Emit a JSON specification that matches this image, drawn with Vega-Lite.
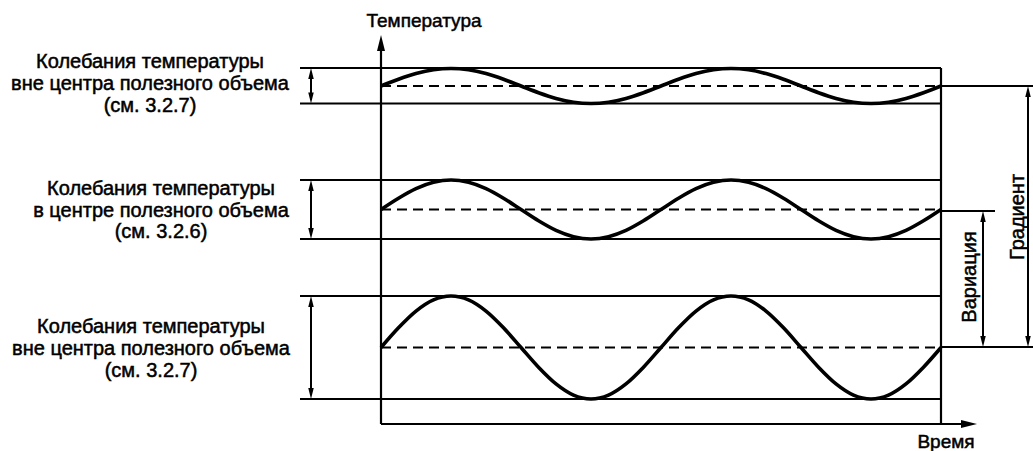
{
  "$schema": "https://vega.github.io/schema/vega-lite/v6.json",
  "width": 1033,
  "height": 451,
  "autosize": {"type": "none"},
  "padding": 0,
  "background": "white",
  "config": {"view": {"stroke": null}},
  "datasets": {
    "curves": [
      {"p":1,"x":381,"y":86},{"p":1,"x":398.5,"y":79.3},{"p":1,"x":416,"y":73.6},{"p":1,"x":433.5,"y":69.8},{"p":1,"x":451,"y":68.5},{"p":1,"x":468.5,"y":69.8},{"p":1,"x":486,"y":73.6},{"p":1,"x":503.5,"y":79.3},{"p":1,"x":521,"y":86},{"p":1,"x":538.5,"y":92.7},{"p":1,"x":556,"y":98.4},{"p":1,"x":573.5,"y":102.2},{"p":1,"x":591,"y":103.5},{"p":1,"x":608.5,"y":102.2},{"p":1,"x":626,"y":98.4},{"p":1,"x":643.5,"y":92.7},{"p":1,"x":661,"y":86},{"p":1,"x":678.5,"y":79.3},{"p":1,"x":696,"y":73.6},{"p":1,"x":713.5,"y":69.8},{"p":1,"x":731,"y":68.5},{"p":1,"x":748.5,"y":69.8},{"p":1,"x":766,"y":73.6},{"p":1,"x":783.5,"y":79.3},{"p":1,"x":801,"y":86},{"p":1,"x":818.5,"y":92.7},{"p":1,"x":836,"y":98.4},{"p":1,"x":853.5,"y":102.2},{"p":1,"x":871,"y":103.5},{"p":1,"x":888.5,"y":102.2},{"p":1,"x":906,"y":98.4},{"p":1,"x":923.5,"y":92.7},{"p":1,"x":941,"y":86},
      {"p":2,"x":381,"y":209.5},{"p":2,"x":398.5,"y":198.2},{"p":2,"x":416,"y":188.6},{"p":2,"x":433.5,"y":182.3},{"p":2,"x":451,"y":180},{"p":2,"x":468.5,"y":182.3},{"p":2,"x":486,"y":188.6},{"p":2,"x":503.5,"y":198.2},{"p":2,"x":521,"y":209.5},{"p":2,"x":538.5,"y":220.8},{"p":2,"x":556,"y":230.4},{"p":2,"x":573.5,"y":236.7},{"p":2,"x":591,"y":239},{"p":2,"x":608.5,"y":236.7},{"p":2,"x":626,"y":230.4},{"p":2,"x":643.5,"y":220.8},{"p":2,"x":661,"y":209.5},{"p":2,"x":678.5,"y":198.2},{"p":2,"x":696,"y":188.6},{"p":2,"x":713.5,"y":182.3},{"p":2,"x":731,"y":180},{"p":2,"x":748.5,"y":182.3},{"p":2,"x":766,"y":188.6},{"p":2,"x":783.5,"y":198.2},{"p":2,"x":801,"y":209.5},{"p":2,"x":818.5,"y":220.8},{"p":2,"x":836,"y":230.4},{"p":2,"x":853.5,"y":236.7},{"p":2,"x":871,"y":239},{"p":2,"x":888.5,"y":236.7},{"p":2,"x":906,"y":230.4},{"p":2,"x":923.5,"y":220.8},{"p":2,"x":941,"y":209.5},
      {"p":3,"x":381,"y":347.5},{"p":3,"x":398.5,"y":327.8},{"p":3,"x":416,"y":311.1},{"p":3,"x":433.5,"y":299.9},{"p":3,"x":451,"y":296},{"p":3,"x":468.5,"y":299.9},{"p":3,"x":486,"y":311.1},{"p":3,"x":503.5,"y":327.8},{"p":3,"x":521,"y":347.5},{"p":3,"x":538.5,"y":367.2},{"p":3,"x":556,"y":383.9},{"p":3,"x":573.5,"y":395.1},{"p":3,"x":591,"y":399},{"p":3,"x":608.5,"y":395.1},{"p":3,"x":626,"y":383.9},{"p":3,"x":643.5,"y":367.2},{"p":3,"x":661,"y":347.5},{"p":3,"x":678.5,"y":327.8},{"p":3,"x":696,"y":311.1},{"p":3,"x":713.5,"y":299.9},{"p":3,"x":731,"y":296},{"p":3,"x":748.5,"y":299.9},{"p":3,"x":766,"y":311.1},{"p":3,"x":783.5,"y":327.8},{"p":3,"x":801,"y":347.5},{"p":3,"x":818.5,"y":367.2},{"p":3,"x":836,"y":383.9},{"p":3,"x":853.5,"y":395.1},{"p":3,"x":871,"y":399},{"p":3,"x":888.5,"y":395.1},{"p":3,"x":906,"y":383.9},{"p":3,"x":923.5,"y":367.2},{"p":3,"x":941,"y":347.5}
    ],
    "thin": [
      {"x":300,"x2":941,"y":68,"y2":68},
      {"x":300,"x2":941,"y":103.5,"y2":103.5},
      {"x":300,"x2":941,"y":180,"y2":180},
      {"x":300,"x2":941,"y":239,"y2":239},
      {"x":300,"x2":941,"y":296,"y2":296},
      {"x":300,"x2":941,"y":399,"y2":399},
      {"x":311,"x2":311,"y":72,"y2":100},
      {"x":311,"x2":311,"y":184,"y2":235},
      {"x":311,"x2":311,"y":300,"y2":395},
      {"x":941,"x2":1033,"y":86,"y2":86},
      {"x":941,"x2":1033,"y":347,"y2":347},
      {"x":941,"x2":995,"y":211,"y2":211},
      {"x":1028,"x2":1028,"y":90,"y2":343},
      {"x":983,"x2":983,"y":215,"y2":343}
    ],
    "box": [
      {"x":381,"x2":381,"y":45,"y2":424},
      {"x":941,"x2":941,"y":68,"y2":424},
      {"x":381,"x2":965,"y":424,"y2":424}
    ],
    "dashed": [
      {"x":381,"x2":941,"y":86,"y2":86},
      {"x":381,"x2":941,"y":209.5,"y2":209.5},
      {"x":381,"x2":941,"y":347.5,"y2":347.5}
    ],
    "heads": [
      {"x":311,"y":68,"dir":"up"},{"x":311,"y":103.5,"dir":"down"},
      {"x":311,"y":180,"dir":"up"},{"x":311,"y":239,"dir":"down"},
      {"x":311,"y":296,"dir":"up"},{"x":311,"y":399,"dir":"down"},
      {"x":1028,"y":86,"dir":"up"},{"x":1028,"y":347,"dir":"down"},
      {"x":983,"y":211,"dir":"up"},{"x":983,"y":347,"dir":"down"},
      {"x":381,"y":35,"dir":"yaxis"},
      {"x":977,"y":424,"dir":"xaxis"}
    ],
    "labels": [
      {"x":150,"y":68,"t":"Колебания температуры"},
      {"x":150,"y":90,"t":"вне центра полезного объема"},
      {"x":150,"y":112,"t":"(см. 3.2.7)"},
      {"x":161,"y":195,"t":"Колебания температуры"},
      {"x":161,"y":217,"t":"в центре полезного объема"},
      {"x":161,"y":238,"t":"(см. 3.2.6)"},
      {"x":151,"y":333,"t":"Колебания температуры"},
      {"x":151,"y":355,"t":"вне центра полезного объема"},
      {"x":151,"y":377,"t":"(см. 3.2.7)"}
    ],
    "axislabels": [
      {"x":424,"y":27,"t":"Температура"},
      {"x":946,"y":448,"t":"Время"}
    ],
    "vlabels": [
      {"x":976,"y":277,"t":"Вариация"},
      {"x":1024,"y":217,"t":"Градиент"}
    ]
  },
  "layer": [
    {
      "data": {"name": "thin"},
      "mark": {"type": "rule", "color": "black", "strokeWidth": 2},
      "encoding": {
        "x": {"field": "x", "type": "quantitative", "scale": {"domain": [0, 1033], "nice": false, "zero": false}, "axis": null},
        "x2": {"field": "x2"},
        "y": {"field": "y", "type": "quantitative", "scale": {"domain": [0, 451], "nice": false, "zero": false, "reverse": true}, "axis": null},
        "y2": {"field": "y2"}
      }
    },
    {
      "data": {"name": "box"},
      "mark": {"type": "rule", "color": "black", "strokeWidth": 2.2},
      "encoding": {
        "x": {"field": "x", "type": "quantitative"},
        "x2": {"field": "x2"},
        "y": {"field": "y", "type": "quantitative"},
        "y2": {"field": "y2"}
      }
    },
    {
      "data": {"name": "dashed"},
      "mark": {"type": "rule", "color": "black", "strokeWidth": 2, "strokeDash": [10, 6]},
      "encoding": {
        "x": {"field": "x", "type": "quantitative"},
        "x2": {"field": "x2"},
        "y": {"field": "y", "type": "quantitative"},
        "y2": {"field": "y2"}
      }
    },
    {
      "data": {"name": "curves"},
      "mark": {"type": "line", "color": "black", "strokeWidth": 3.6, "interpolate": "monotone"},
      "encoding": {
        "x": {"field": "x", "type": "quantitative"},
        "y": {"field": "y", "type": "quantitative"},
        "detail": {"field": "p"}
      }
    },
    {
      "data": {"name": "heads"},
      "transform": [{"filter": "datum.dir === 'up'"}],
      "mark": {"type": "point", "filled": true, "opacity": 1, "color": "black", "size": 100, "strokeWidth": 0, "shape": "M0,0L-0.55,2.2L0.55,2.2Z"},
      "encoding": {
        "x": {"field": "x", "type": "quantitative"},
        "y": {"field": "y", "type": "quantitative"}
      }
    },
    {
      "data": {"name": "heads"},
      "transform": [{"filter": "datum.dir === 'down'"}],
      "mark": {"type": "point", "filled": true, "opacity": 1, "color": "black", "size": 100, "strokeWidth": 0, "shape": "M0,0L-0.55,-2.2L0.55,-2.2Z"},
      "encoding": {
        "x": {"field": "x", "type": "quantitative"},
        "y": {"field": "y", "type": "quantitative"}
      }
    },
    {
      "data": {"name": "heads"},
      "transform": [{"filter": "datum.dir === 'yaxis'"}],
      "mark": {"type": "point", "filled": true, "opacity": 1, "color": "black", "size": 100, "strokeWidth": 0, "shape": "M0,0L-0.8,3.2L0.8,3.2Z"},
      "encoding": {
        "x": {"field": "x", "type": "quantitative"},
        "y": {"field": "y", "type": "quantitative"}
      }
    },
    {
      "data": {"name": "heads"},
      "transform": [{"filter": "datum.dir === 'xaxis'"}],
      "mark": {"type": "point", "filled": true, "opacity": 1, "color": "black", "size": 100, "strokeWidth": 0, "shape": "M0,0L-3.2,-0.8L-3.2,0.8Z"},
      "encoding": {
        "x": {"field": "x", "type": "quantitative"},
        "y": {"field": "y", "type": "quantitative"}
      }
    },
    {
      "data": {"name": "labels"},
      "mark": {"type": "text", "font": "Liberation Sans", "fontSize": 20, "align": "center", "baseline": "alphabetic", "color": "black", "stroke": "black", "strokeWidth": 0.5},
      "encoding": {
        "x": {"field": "x", "type": "quantitative"},
        "y": {"field": "y", "type": "quantitative"},
        "text": {"field": "t"}
      }
    },
    {
      "data": {"name": "axislabels"},
      "mark": {"type": "text", "font": "Liberation Sans", "fontSize": 19, "align": "center", "baseline": "alphabetic", "color": "black", "stroke": "black", "strokeWidth": 0.5},
      "encoding": {
        "x": {"field": "x", "type": "quantitative"},
        "y": {"field": "y", "type": "quantitative"},
        "text": {"field": "t"}
      }
    },
    {
      "data": {"name": "vlabels"},
      "mark": {"type": "text", "font": "Liberation Sans", "fontSize": 20, "align": "center", "baseline": "alphabetic", "angle": 270, "color": "black", "stroke": "black", "strokeWidth": 0.5},
      "encoding": {
        "x": {"field": "x", "type": "quantitative"},
        "y": {"field": "y", "type": "quantitative"},
        "text": {"field": "t"}
      }
    }
  ]
}
